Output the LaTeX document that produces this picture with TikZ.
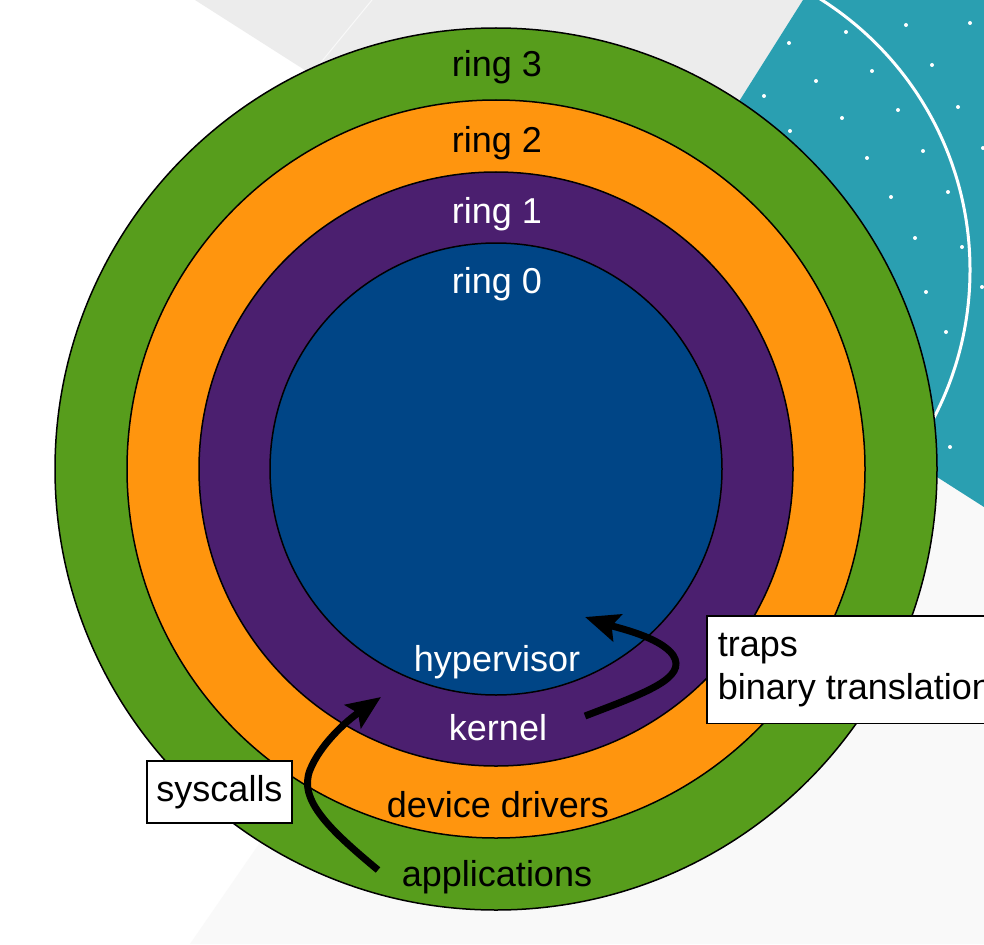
\documentclass[tikz,border=0pt]{standalone}
\usepackage{fontspec}
\setmainfont{Liberation Sans}
\usepackage{tikz}
\usetikzlibrary{arrows.meta,positioning}
\definecolor{ringgreen}{HTML}{579D1C}
\definecolor{ringorange}{HTML}{FF950E}
\definecolor{ringpurple}{HTML}{4B1F6F}
\definecolor{ringblue}{HTML}{004586}
\definecolor{slideteal}{HTML}{2A9FB1}
\definecolor{slidegray}{HTML}{ECECEC}
\definecolor{slidelight}{HTML}{F9F9F9}

\begin{document}
\begin{tikzpicture}
      [x=1pt, y=-1pt,
      font=\fontsize{36}{43}\selectfont,
      ring style/.style={draw=black, line width=1.5pt},
      label dark/.style={anchor=base, text=black},
      label light/.style={anchor=base, text=white},
      box style/.style={draw, fill=white, line width=1.5pt, rectangle},
      call arrow/.style={line width=7pt, -{Stealth[length=34pt, width=28pt, inset=6pt]}},
      ]
    \useasboundingbox (0,0) rectangle (984,944);

    % slide background
    \fill[white] (0,0) rectangle (984,944);
    \fill[slidegray] (195,0) -- (803,0) -- (627,279) -- (496,192) -- cycle;
    \draw[white!70!slidegray, line width=1pt] (372,0) -- (318,66);
    \fill[slidelight] (190,944) -- (330,741) -- (627,279) -- (984,507) -- (984,944) -- cycle;
    \fill[slideteal] (803,0) -- (984,0) -- (984,507) -- (627,279) -- cycle;
    \begin{scope}
      \clip (803,0) -- (984,0) -- (984,507) -- (627,279) -- cycle;
      \draw[white, line width=3pt] (650,270) circle (320);
      \foreach \p in {(906,25),(970,23),(846,32),(789,43),(872,71),(932,65),(816,81),
                      (764,96),(898,110),(958,107),(842,118),(790,131),(923,151),(983,148),
                      (867,158),(891,197),(948,192),(915,238),(962,247),(926,292),
                      (982,287),(946,332),(950,447)}
        \fill[white] \p circle (2);
    \end{scope}

    % rings
    \coordinate (centre) at (496,469);
    \filldraw[ring style, fill=ringgreen] (centre) circle (441);
    \filldraw[ring style, fill=ringorange] (centre) circle (369);
    \filldraw[ring style, fill=ringpurple] (centre) circle (297);
    \filldraw[ring style, fill=ringblue] (centre) circle (226);

    \node[label dark] (ring3) at (497,77) {ring 3};
    \node[label dark] (ring2) at (497,153) {ring 2};
    \node[label light] (ring1) at (497,223) {ring 1};
    \node[label light] (ring0) at (497,293) {ring 0};

    \node[label light] (hypervisor) at (497,671) {hypervisor};
    \node[label light] (kernel) at (498,740) {kernel};
    \node[label dark] (drivers) at (498,817) {device drivers};
    \node[label dark] (applications) at (497,886) {applications};

    % calls between the rings
    \coordinate (sys from) at (378,870);
    \coordinate (sys to) at (381,697);
    \coordinate (trap from) at (585,716);
    \coordinate (trap to) at (585,617);
    \draw[call arrow] (sys from) .. controls (330,830) and (298,800) .. (310,770)
                                 .. controls (320,745) and (345,722) .. (sys to);
    \draw[call arrow] (trap from) .. controls (645,693) and (688,678) .. (673,655)
                                  .. controls (660,637) and (618,628) .. (trap to);

    \node[box style, minimum width=145pt, minimum height=62pt] (syscalls) at (219.5,792) {syscalls};
    \node[box style, anchor=north west, align=left, inner xsep=11pt, inner ysep=17pt]
      (traps) at (706,615) {traps\\binary translation};
    \end{tikzpicture}
\end{document}
